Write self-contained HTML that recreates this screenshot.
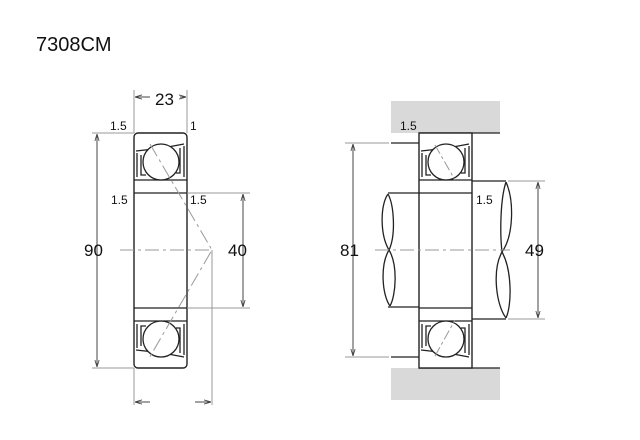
<!DOCTYPE html>
<html><head><meta charset="utf-8"><style>
html,body{margin:0;padding:0;background:#fff;}
svg{display:block}
text{font-family:"Liberation Sans","DejaVu Sans",sans-serif;fill:#111}
</style></head><body>
<svg width="640" height="440" viewBox="0 0 640 440" xmlns="http://www.w3.org/2000/svg">
<defs>
<g id="half" fill="none" stroke="#222" stroke-width="1.3">
  <line x1="0" y1="47" x2="53" y2="47"/>
  <line x1="0" y1="60" x2="53" y2="60"/>
  <path d="M2 18 L20 16 M34 14 L50 11" />
  <path d="M3 20 L3 44 M7 22 L7 42 L12 42 M50 13 L50 44 M46 15 L46 40 L42 40"/>
  <circle cx="27" cy="29" r="18" fill="#fff"/>
</g>
<marker id="a" viewBox="0 0 10 10" refX="10" refY="5" markerWidth="7" markerHeight="7" orient="auto-start-reverse"><path d="M0 2 L10 5 L0 8" fill="none" stroke="#444" stroke-width="1.2"/></marker>
</defs>
<text x="36" y="51" font-size="20">7308CM</text>

<!-- Left bearing -->
<rect x="134" y="133" width="53" height="235" rx="4" fill="none" stroke="#222" stroke-width="1.4"/>
<use href="#half" x="134" y="133"/>
<use href="#half" transform="translate(134,368) scale(1,-1)"/>
<g stroke="#999" stroke-width="1" fill="none">
<line x1="120" y1="250" x2="212" y2="250" stroke-dasharray="14,4,3,4"/>
<path d="M150 144 L212 250 L148 360" stroke-dasharray="14,4,3,4"/>
<line x1="212" y1="250" x2="212" y2="405"/>
<line x1="134" y1="368" x2="134" y2="405"/>
<line x1="134" y1="90" x2="134" y2="133"/>
<line x1="187" y1="90" x2="187" y2="133"/>
<line x1="92" y1="133" x2="134" y2="133"/>
<line x1="92" y1="368" x2="134" y2="368"/>
<line x1="187" y1="193" x2="250" y2="193"/>
<line x1="187" y1="308" x2="250" y2="308"/>
</g>
<g stroke="#444" stroke-width="1" fill="none">
<line x1="97" y1="134" x2="97" y2="367" marker-start="url(#a)" marker-end="url(#a)"/>
<line x1="243" y1="194" x2="243" y2="307" marker-start="url(#a)" marker-end="url(#a)"/>
<line x1="150" y1="97" x2="135" y2="97" marker-end="url(#a)"/>
<line x1="180" y1="97" x2="186" y2="97" marker-end="url(#a)"/>
<line x1="150" y1="402" x2="135" y2="402" marker-end="url(#a)"/>
<line x1="195" y1="402" x2="211" y2="402" marker-end="url(#a)"/>
</g>
<text x="155" y="105" font-size="17">23</text>
<text x="110" y="130" font-size="12">1.5</text>
<text x="190" y="130" font-size="12">1</text>
<text x="111" y="204" font-size="12">1.5</text>
<text x="190" y="204" font-size="12">1.5</text>
<text x="84" y="256" font-size="17">90</text>
<text x="228" y="256" font-size="17">40</text>

<!-- Right assembly -->
<rect x="391" y="101" width="109" height="32" fill="#d9d9d9"/>
<rect x="391" y="368" width="109" height="32" fill="#d9d9d9"/>
<g stroke="#222" stroke-width="1.3" fill="none">
<line x1="419" y1="133" x2="500" y2="133"/>
<line x1="419" y1="368" x2="500" y2="368"/>
<line x1="391" y1="143" x2="419" y2="143"/>
<line x1="391" y1="357" x2="419" y2="357"/>
<line x1="388" y1="193" x2="419" y2="193"/>
<line x1="388" y1="307" x2="419" y2="307"/>
<path d="M388 194 C380 205 380 235 389 250 C398 265 396 295 390 306"/>
<path d="M388 194 C394 205 396 235 389 250 C380 265 382 295 390 306"/>
<line x1="472" y1="181" x2="506" y2="181"/>
<line x1="472" y1="319" x2="506" y2="319"/>
<path d="M506 182 C514 200 514 235 502 252 C492 270 496 305 506 318"/>
<path d="M506 182 C500 200 500 235 502 252 C512 270 512 305 506 318"/>
</g>
<rect x="419" y="133" width="53" height="235" fill="#fff" stroke="#222" stroke-width="1.4"/>
<use href="#half" x="419" y="133"/>
<use href="#half" transform="translate(419,368) scale(1,-1)"/>
<g stroke="#999" stroke-width="1" fill="none">
<line x1="375" y1="250" x2="510" y2="250" stroke-dasharray="14,4,3,4"/>
<line x1="435" y1="145" x2="455" y2="180" stroke-dasharray="10,3,3,3"/>
<line x1="435" y1="356" x2="455" y2="320" stroke-dasharray="10,3,3,3"/>
<line x1="345" y1="143" x2="389" y2="143"/>
<line x1="345" y1="357" x2="389" y2="357"/>
<line x1="508" y1="181" x2="545" y2="181"/>
<line x1="508" y1="319" x2="545" y2="319"/>
</g>
<g stroke="#444" stroke-width="1" fill="none">
<line x1="353" y1="144" x2="353" y2="356" marker-start="url(#a)" marker-end="url(#a)"/>
<line x1="538" y1="182" x2="538" y2="318" marker-start="url(#a)" marker-end="url(#a)"/>
</g>
<text x="400" y="130" font-size="12">1.5</text>
<text x="476" y="204" font-size="12">1.5</text>
<text x="340" y="256" font-size="17">81</text>
<text x="525" y="256" font-size="17">49</text>
</svg>
</body></html>
